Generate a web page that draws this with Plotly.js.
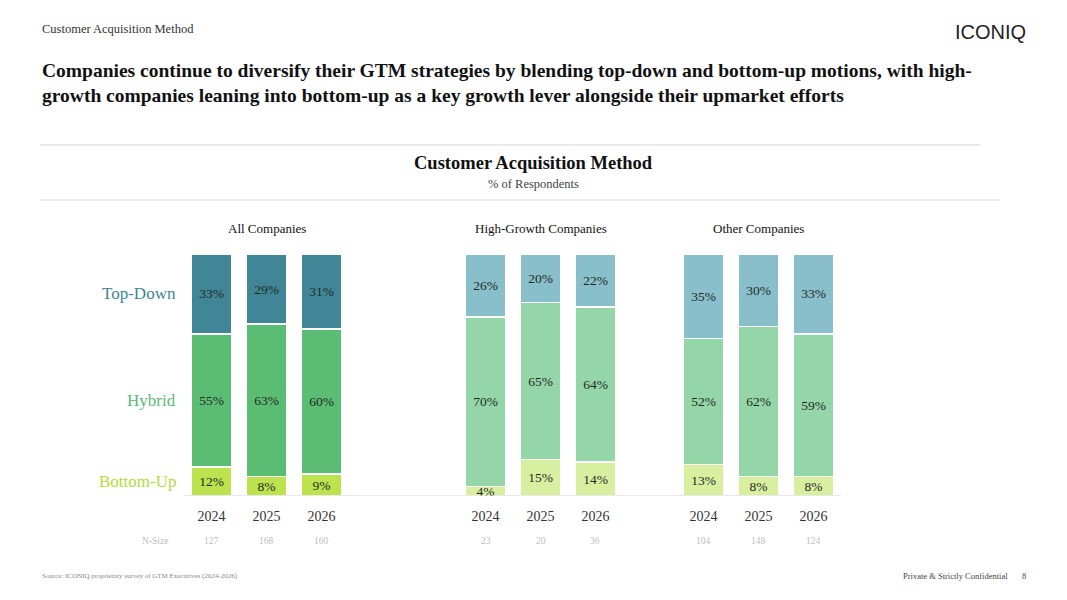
<!DOCTYPE html>
<html><head><meta charset="utf-8">
<script src="https://cdn.plot.ly/plotly-3.0.1.min.js"></script>
<style>html,body{margin:0;padding:0;background:#fff}#chart{width:1067px;height:600px}</style>
</head><body><div id="chart"></div>
<script>
const years = ['2024','2025','2026'];
const groups = ['All Companies','High-Growth Companies','Other Companies'];
const segments = ['Bottom-Up','Hybrid','Top-Down'];
const bottomUp = [[12,8,9],[4,15,14],[13,8,8]];
const hybrid   = [[55,63,60],[70,65,64],[52,62,59]];
const topDown  = [[33,29,31],[26,20,22],[35,30,33]];
const nSize    = [[127,168,160],[23,20,36],[104,148,124]];

const serif = 'Liberation Serif, serif';
const darkCols  = ['#bce24e','#5bbd74','#418696'];
const lightCols = ['#d9efa0','#94d6a8','#88bfcb'];
const labelCols = ['#b4dc3c','#5cb878','#3e8595'];

const domains = [[184/1067,349/1067],[458/1067,623/1067],[676/1067,841/1067]];
const yDom = [(600-496)/600,(600-254)/600];

const traces = [];
const seriesData = [bottomUp, hybrid, topDown];
groups.forEach((g,gi)=>{
  const xa = gi===0?'x':'x'+(gi+1);
  seriesData.forEach((s,si)=>{
    traces.push({
      type:'bar', x:years, y:s[gi], xaxis:xa, yaxis:'y',
      name:segments[si], showlegend:false,
      marker:{color: gi===0?darkCols[si]:lightCols[si], line:{color:'#ffffff',width:1.5}},
      text:s[gi].map(v=>v+'%'), textposition:'inside', insidetextanchor:'middle',
      constraintext:'none', textangle:0,
      textfont:{family:serif,size:13.5,color:'#1f2a24'},
      hoverinfo:'skip', width:0.745
    });
  });
});

const layout = {
  width:1067, height:600, margin:{l:0,r:0,t:0,b:0},
  paper_bgcolor:'#fff', plot_bgcolor:'rgba(0,0,0,0)',
  barmode:'stack', bargap:0.255,
  yaxis:{domain:yDom, range:[0,100], visible:false, fixedrange:true},
  annotations:[], shapes:[]
};
groups.forEach((g,gi)=>{
  const key = gi===0?'xaxis':'xaxis'+(gi+1);
  layout[key] = {domain:domains[gi], type:'category', range:[-0.5,2.5], anchor:'y',
    showgrid:false, zeroline:false, showline:false, ticks:'', ticklen:0,
    ticklabelstandoff:10, tickfont:{family:serif,size:14,color:'#333'}};
  const dom = domains[gi];
  const w = (dom[1]-dom[0])/3;
  layout.annotations.push({xref:'paper', yref:'paper', x:(dom[0]+dom[1])/2, y:(600-228)/600,
    text:g, showarrow:false, font:{family:serif,size:13,color:'#111'}, xanchor:'center', yanchor:'middle'});
  years.forEach((yr,yi)=>{
    layout.annotations.push({xref:'paper', yref:'paper', x:dom[0]+w*(yi+0.5), y:(600-541)/600, text:String(nSize[gi][yi]),
      showarrow:false, font:{family:serif,size:9.5,color:'#bdbdbd'}, xanchor:'center', yanchor:'middle'});
  });
  layout.shapes.push({type:'line', xref:'paper', yref:'y', x0:dom[0], x1:gi<2?domains[gi+1][0]:dom[1], y0:0, y1:0,
    line:{color:'#d4d4d4',width:1.2}});
});
// series labels at the 2024 All Companies segment midpoints
let cum = 0;
seriesData.forEach((s,si)=>{
  const v = s[0][0];
  layout.annotations.push({xref:'paper', yref:'y', x:178/1067, y:cum+v/2, text:segments[si],
    showarrow:false, xanchor:'right', yanchor:'middle', font:{family:serif,size:17,color:labelCols[si]}});
  cum += v;
});
layout.annotations.push(
  {xref:'paper',yref:'paper',x:170/1067,y:(600-541)/600,text:'N-Size',showarrow:false,xanchor:'right',yanchor:'middle',font:{family:serif,size:9.5,color:'#bdbdbd'}},
  {xref:'paper',yref:'paper',x:40/1067,y:(600-29)/600,text:'Customer Acquisition Method',showarrow:false,xanchor:'left',yanchor:'middle',font:{family:serif,size:12.5,color:'#333'}},
  {xref:'paper',yref:'paper',x:1028/1067,y:(600-32)/600,text:'ICONIQ',showarrow:false,xanchor:'right',yanchor:'middle',font:{family:'Liberation Sans Narrow, Liberation Sans, sans-serif',size:20,color:'#222'}},
  {xref:'paper',yref:'paper',x:40/1067,y:(600-83)/600,text:'Companies continue to diversify their GTM strategies by blending top-down and bottom-up motions, with high-<br>growth companies leaning into bottom-up as a key growth lever alongside their upmarket efforts',showarrow:false,xanchor:'left',yanchor:'middle',align:'left',font:{family:serif,size:19.5,weight:'bold',color:'#111'}},
  {xref:'paper',yref:'paper',x:0.5,y:(600-163)/600,text:'Customer Acquisition Method',showarrow:false,xanchor:'center',yanchor:'middle',font:{family:serif,size:18.5,weight:'bold',color:'#111'}},
  {xref:'paper',yref:'paper',x:0.5,y:(600-184)/600,text:'% of Respondents',showarrow:false,xanchor:'center',yanchor:'middle',font:{family:serif,size:12.5,color:'#444'}},
  {xref:'paper',yref:'paper',x:40/1067,y:(600-576)/600,text:'Source: ICONIQ proprietary survey of GTM Executives (2024-2026)',showarrow:false,xanchor:'left',yanchor:'middle',font:{family:serif,size:7,color:'#888'}},
  {xref:'paper',yref:'paper',x:1010/1067,y:(600-576)/600,text:'Private & Strictly Confidential',showarrow:false,xanchor:'right',yanchor:'middle',font:{family:serif,size:8.5,color:'#444'}},
  {xref:'paper',yref:'paper',x:1028/1067,y:(600-576)/600,text:'8',showarrow:false,xanchor:'right',yanchor:'middle',font:{family:serif,size:8.5,color:'#444'}}
);
layout.shapes.push(
  {type:'line',xref:'paper',yref:'paper',x0:40/1067,x1:980/1067,y0:(600-145)/600,y1:(600-145)/600,line:{color:'#e2e2e2',width:1.5}},
  {type:'line',xref:'paper',yref:'paper',x0:40/1067,x1:1000/1067,y0:(600-200)/600,y1:(600-200)/600,line:{color:'#e2e2e2',width:1.5}}
);
Plotly.newPlot('chart', traces, layout, {displayModeBar:false, staticPlot:true});
</script></body></html>
